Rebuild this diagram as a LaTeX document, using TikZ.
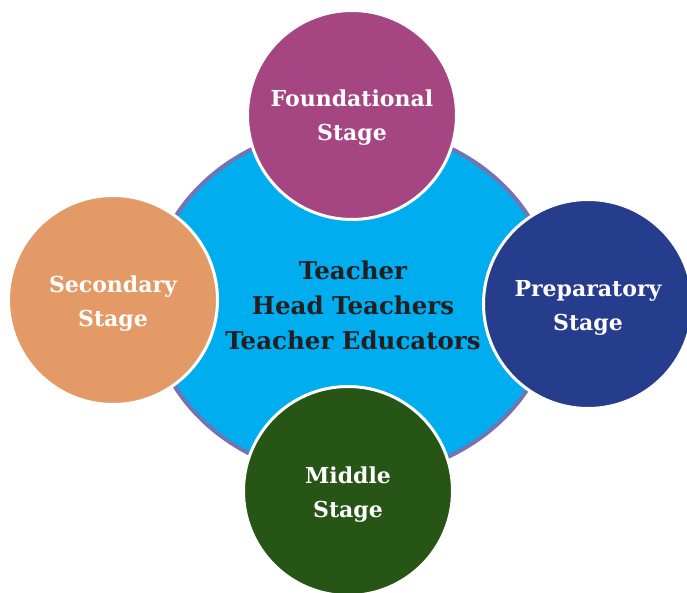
\documentclass[tikz,border=0pt]{standalone}
\usepackage{fontspec}
\setmainfont{DejaVu Serif}
\usetikzlibrary{shapes.geometric}
\definecolor{hubblue}{HTML}{00ADEF}
\definecolor{hubedge}{HTML}{7474B2}
\definecolor{cfound}{HTML}{A54582}
\definecolor{cprep}{HTML}{253D8C}
\definecolor{csec}{HTML}{E39A67}
\definecolor{cmid}{HTML}{265516}
\definecolor{ctext}{HTML}{231F20}
\tikzset{
  hub/.style={ellipse, fill=hubblue, draw=hubedge, line width=4pt, minimum width=404pt, minimum height=352pt, inner sep=0pt},
  stagecircle/.style={circle, draw=white, line width=3pt, minimum size=209pt, inner sep=0pt},
  stagetext/.style={align=center, text=white, font=\bfseries\fontsize{22}{34}\selectfont},
  hubtext/.style={align=center, text=ctext, font=\bfseries\fontsize{24.5}{35}\selectfont}
}
\begin{document}
\begin{tikzpicture}[x=1pt,y=-1pt]
\useasboundingbox (0,0) rectangle (687,593);
\node[hub] (hub) at (352,302) {};
\node[hubtext] (hubtxt) at (353,305) {Teacher\\Head Teachers\\Teacher Educators};
\node[stagecircle, fill=cfound] (found) at (352,115) {};
\node[stagecircle, fill=csec] (sec) at (113,300) {};
\node[stagecircle, fill=cprep] (prep) at (588,304) {};
\node[stagecircle, fill=cmid] (mid) at (348,491) {};
\node[stagetext] (foundtxt) at (352,118) {Foundational\\Stage};
\node[stagetext] (sectxt) at (113,303.5) {Secondary\\Stage};
\node[stagetext] (preptxt) at (588,308) {Preparatory\\Stage};
\node[stagetext] (midtxt) at (348,495) {Middle\\Stage};
\end{tikzpicture}
\end{document}
